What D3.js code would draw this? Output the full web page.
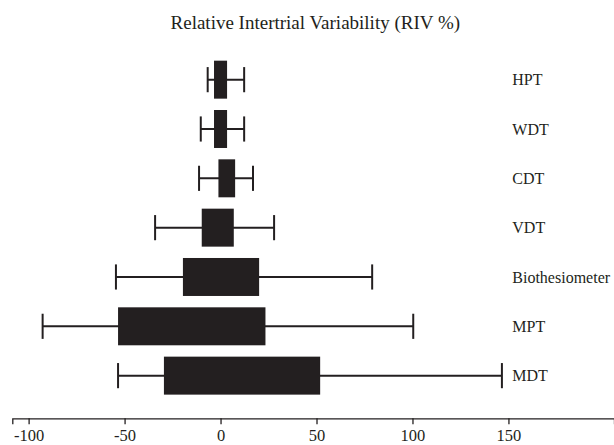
<html>
<head>
<meta charset="utf-8">
<script src="https://cdnjs.cloudflare.com/ajax/libs/d3/7.8.5/d3.min.js"></script>
<style>
  body { margin: 0; background: #fff; }
  text { font-family: "Liberation Serif", "Times New Roman", serif; fill: #231f20; }
</style>
</head>
<body>
<svg width="614" height="445"></svg>
<script>
// measures, top to bottom
const measures = ['HPT', 'WDT', 'CDT', 'VDT', 'Biothesiometer', 'MPT', 'MDT']
// box ends (RIV %)
const boxLow = [-3.4, -3.4, -1.1, -9.8, -19.6, -53.4, -29.5]
const boxHigh = [3.4, 3.4, 7.6, 6.9, 20.1, 23.4, 51.9]
// whisker ends
const whiskLow = [-6.7, -10.3, -11.2, -34.1, -54.5, -92.7, -53.4]
const whiskHigh = [12.3, 12.3, 16.9, 27.9, 79.0, 100.4, 146.6]
const tickVals = [-100, -50, 0, 50, 100, 150]
const title = 'Relative Intertrial Variability (RIV %)'

const ink = '#231f20'
const svg = d3.select('svg')
const data = measures.map((m, i) => ({ m, lo: boxLow[i], hi: boxHigh[i], wl: whiskLow[i], wh: whiskHigh[i] }))

const x = d3.scaleLinear().domain([-108.5, 205]).range([12.3, 614])
const y = d3.scaleBand().domain(measures).range([55, 400.3]).paddingInner(0.23).paddingOuter(0.115)
const capH = y.step() * 0.51
const mid = d => y(d.m) + y.bandwidth() / 2

svg.append('text')
  .attr('x', 315.3).attr('y', 29)
  .attr('text-anchor', 'middle')
  .style('font-size', '19px')
  .text(title)

const rows = svg.append('g').selectAll('g').data(data).enter().append('g')

rows.append('line')
  .attr('x1', d => x(d.wl)).attr('x2', d => x(d.wh))
  .attr('y1', mid).attr('y2', mid)
  .attr('stroke', ink).attr('stroke-width', 2)

rows.selectAll('.cap').data(d => [[d.wl, d], [d.wh, d]]).enter().append('line')
  .attr('class', 'cap')
  .attr('x1', c => x(c[0])).attr('x2', c => x(c[0]))
  .attr('y1', c => mid(c[1]) - capH / 2).attr('y2', c => mid(c[1]) + capH / 2)
  .attr('stroke', ink).attr('stroke-width', 2)

rows.append('rect')
  .attr('x', d => x(d.lo))
  .attr('width', d => x(d.hi) - x(d.lo))
  .attr('y', d => y(d.m))
  .attr('height', y.bandwidth())
  .attr('fill', ink)

rows.append('text')
  .attr('x', 512.3)
  .attr('y', d => mid(d) + 5.8)
  .style('font-size', '16px')
  .text(d => d.m)

const axis = svg.append('g')
  .attr('transform', 'translate(0,418.3)')
  .call(d3.axisBottom(x).tickValues(tickVals).tickSizeOuter(0).tickSize(6).tickPadding(5).tickFormat(d => String(d)))
axis.select('.domain').attr('stroke', ink).attr('stroke-width', 1.3)
axis.selectAll('.tick line').attr('stroke', ink).attr('stroke-width', 1.3)
axis.selectAll('.tick text')
  .style('font-family', '"Liberation Serif", serif')
  .style('font-size', '16.5px')
  .attr('fill', ink)
</script>
</body>
</html>
